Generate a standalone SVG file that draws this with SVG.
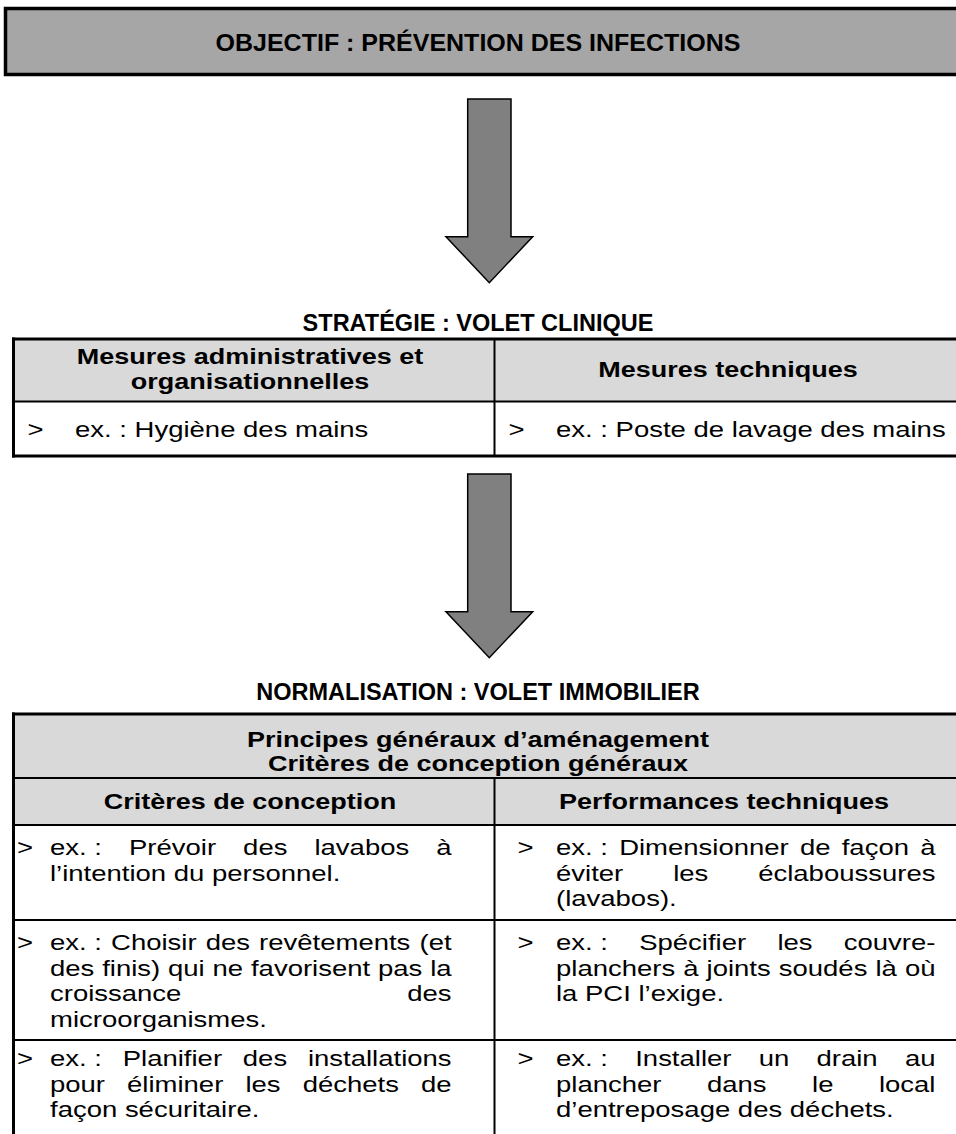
<svg xmlns="http://www.w3.org/2000/svg" width="956" height="1134" viewBox="0 0 956 1134">
<style>
.t{font-family:"Liberation Sans",Arial,sans-serif;fill:#000}
.b{font-weight:bold}
.f{font-size:21.5px}
.c{text-anchor:middle}
.ln{stroke:#000;stroke-width:2;fill:none}
.lt{stroke:#000;stroke-width:3;fill:none}
.hdr{fill:#d9d9d9}
.arrow{fill:#808080;stroke:#000;stroke-width:1.5;stroke-linejoin:miter}
</style>
<defs>
<polygon id="arr" points="467.7,99 511,99 511,236.7 532.7,236.7 489.3,282.7 446,236.7 467.7,236.7"/>
</defs>

<g id="objectif">
<rect x="5.5" y="8.5" width="960" height="66" fill="#a6a6a6" stroke="#000" stroke-width="3.5"/>
<text class="t b c" font-size="23.5" transform="translate(478,50.5) scale(1.064,1)">OBJECTIF : PRÉVENTION DES INFECTIONS</text>
</g>

<g id="connectors">
<use href="#arr" class="arrow"/>
<use href="#arr" class="arrow" transform="translate(0,375)"/>
</g>

<g id="strategie">
<text class="t b c" font-size="23.5" transform="translate(478,331)">STRATÉGIE : VOLET CLINIQUE</text>
<rect class="hdr" x="13.5" y="339" width="950" height="62.5"/>
<line class="lt" x1="12" y1="339" x2="960" y2="339"/>
<line class="lt" x1="13.5" y1="337.5" x2="13.5" y2="457.5"/>
<line class="ln" x1="13.5" y1="401.5" x2="960" y2="401.5"/>
<line class="lt" x1="12" y1="456" x2="960" y2="456"/>
<line class="ln" x1="494.5" y1="339" x2="494.5" y2="456"/>
<text class="t b f c" transform="translate(250,364) scale(1.2558,1)">Mesures administratives et</text>
<text class="t b f c" transform="translate(250,389) scale(1.2558,1)">organisationnelles</text>
<text class="t b f c" transform="translate(728,377) scale(1.2558,1)">Mesures techniques</text>
<text class="t f" transform="translate(27.5,436.5) scale(1.279,1)">&gt;</text>
<text class="t f" transform="translate(75,436.5) scale(1.279,1)">ex. : Hygiène des mains</text>
<text class="t f" transform="translate(508.5,436.5) scale(1.279,1)">&gt;</text>
<text class="t f" transform="translate(556,436.5) scale(1.279,1)">ex. : Poste de lavage des mains</text>
</g>

<g id="normalisation">
<text class="t b c" font-size="23.5" transform="translate(478,700)">NORMALISATION : VOLET IMMOBILIER</text>
<rect class="hdr" x="13.5" y="714" width="950" height="111"/>
<line class="lt" x1="12" y1="714" x2="960" y2="714"/>
<line class="lt" x1="13.5" y1="712.5" x2="13.5" y2="1134"/>
<line class="ln" x1="13.5" y1="778" x2="960" y2="778"/>
<line class="ln" x1="13.5" y1="825" x2="960" y2="825"/>
<line class="ln" x1="13.5" y1="920" x2="960" y2="920"/>
<line class="ln" x1="13.5" y1="1040" x2="960" y2="1040"/>
<line class="ln" x1="494.5" y1="778" x2="494.5" y2="1134"/>
<text class="t b f c" transform="translate(478,747) scale(1.2558,1)">Principes généraux d’aménagement</text>
<text class="t b f c" transform="translate(478,770.5) scale(1.2558,1)">Critères de conception généraux</text>
<text class="t b f c" transform="translate(250,809) scale(1.2558,1)">Critères de conception</text>
<text class="t b f c" transform="translate(724,809) scale(1.2558,1)">Performances techniques</text>

<text class="t f" transform="translate(17,855) scale(1.279,1)">&gt;</text>
<text class="t f" transform="translate(50,855) scale(1.279,1)"><tspan x="0">ex. :</tspan><tspan x="61.77">Prévoir</tspan><tspan x="150.99">des</tspan><tspan x="206.79">lavabos</tspan><tspan x="302.01">à</tspan></text>
<text class="t f" transform="translate(50,880.5) scale(1.279,1)">l’intention du personnel.</text>

<text class="t f" transform="translate(17,950) scale(1.279,1)">&gt;</text>
<text class="t f" transform="translate(50,950) scale(1.279,1)"><tspan x="0">ex. :</tspan><tspan x="47.74">Choisir</tspan><tspan x="121.73">des</tspan><tspan x="163.5">revêtements</tspan><tspan x="288.9">(et</tspan></text>
<text class="t f" transform="translate(50,975.5) scale(1.279,1)"><tspan x="0">des</tspan><tspan x="40.79">finis)</tspan><tspan x="92.3">qui</tspan><tspan x="127.11">ne</tspan><tspan x="157.14">favorisent</tspan><tspan x="256.47">pas</tspan><tspan x="297.26">la</tspan></text>
<text class="t f" transform="translate(50,1001) scale(1.279,1)"><tspan x="0">croissance</tspan><tspan x="279.33">des</tspan></text>
<text class="t f" transform="translate(50,1026.5) scale(1.279,1)">microorganismes.</text>

<text class="t f" transform="translate(17,1066) scale(1.279,1)">&gt;</text>
<text class="t f" transform="translate(50,1066) scale(1.279,1)"><tspan x="0">ex. :</tspan><tspan x="56.87">Planifier</tspan><tspan x="150.77">des</tspan><tspan x="201.67">installations</tspan></text>
<text class="t f" transform="translate(50,1091.5) scale(1.279,1)"><tspan x="0">pour</tspan><tspan x="60.28">éliminer</tspan><tspan x="152.79">les</tspan><tspan x="197.53">déchets</tspan><tspan x="290.08">de</tspan></text>
<text class="t f" transform="translate(50,1117) scale(1.279,1)">façon sécuritaire.</text>

<text class="t f" transform="translate(517.5,855) scale(1.279,1)">&gt;</text>
<text class="t f" transform="translate(556,855) scale(1.279,1)"><tspan x="0">ex. :</tspan><tspan x="49.39">Dimensionner</tspan><tspan x="190.75">de</tspan><tspan x="223.41">façon</tspan><tspan x="284.75">à</tspan></text>
<text class="t f" transform="translate(556,880.5) scale(1.279,1)"><tspan x="0">éviter</tspan><tspan x="91.59">les</tspan><tspan x="158.09">éclaboussures</tspan></text>
<text class="t f" transform="translate(556,906) scale(1.279,1)">(lavabos).</text>

<text class="t f" transform="translate(517.5,950) scale(1.279,1)">&gt;</text>
<text class="t f" transform="translate(556,950) scale(1.279,1)"><tspan x="0">ex. :</tspan><tspan x="65.06">Spécifier</tspan><tspan x="173.12">les</tspan><tspan x="225.02">couvre-</tspan></text>
<text class="t f" transform="translate(556,975.5) scale(1.279,1)"><tspan x="0">planchers</tspan><tspan x="99.48">à</tspan><tspan x="117.72">joints</tspan><tspan x="174.18">soudés</tspan><tspan x="249.78">là</tspan><tspan x="272.79">où</tspan></text>
<text class="t f" transform="translate(556,1001) scale(1.279,1)">la PCI l’exige.</text>

<text class="t f" transform="translate(517.5,1066) scale(1.279,1)">&gt;</text>
<text class="t f" transform="translate(556,1066) scale(1.279,1)"><tspan x="0">ex. :</tspan><tspan x="61.93">Installer</tspan><tspan x="158.5">un</tspan><tspan x="203.7">drain</tspan><tspan x="272.79">au</tspan></text>
<text class="t f" transform="translate(556,1091.5) scale(1.279,1)"><tspan x="0">plancher</tspan><tspan x="118.02">dans</tspan><tspan x="200.2">le</tspan><tspan x="252.5">local</tspan></text>
<text class="t f" transform="translate(556,1117) scale(1.279,1)">d’entreposage des déchets.</text>
</g>
</svg>
